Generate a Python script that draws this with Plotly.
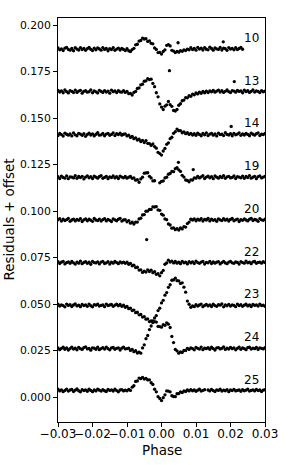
import plotly.graph_objects as go

PHASE = [
    -0.0300, -0.0295, -0.0290, -0.0285, -0.0280, -0.0275, -0.0270, -0.0265, -0.0260, -0.0255,
    -0.0250, -0.0245, -0.0240, -0.0235, -0.0230, -0.0225, -0.0220, -0.0215, -0.0210, -0.0205,
    -0.0200, -0.0195, -0.0190, -0.0185, -0.0180, -0.0175, -0.0170, -0.0165, -0.0160, -0.0155,
    -0.0150, -0.0145, -0.0140, -0.0135, -0.0130, -0.0125, -0.0120, -0.0115, -0.0110, -0.0105,
    -0.0100, -0.0095, -0.0090, -0.0085, -0.0080, -0.0075, -0.0070, -0.0065, -0.0060, -0.0055,
    -0.0050, -0.0045, -0.0040, -0.0035, -0.0030, -0.0025, -0.0020, -0.0015, -0.0010, -0.0005,
    0.0000, 0.0005, 0.0010, 0.0015, 0.0020, 0.0025, 0.0030, 0.0035, 0.0040, 0.0045,
    0.0050, 0.0055, 0.0060, 0.0065, 0.0070, 0.0075, 0.0080, 0.0085, 0.0090, 0.0095,
    0.0100, 0.0105, 0.0110, 0.0115, 0.0120, 0.0125, 0.0130, 0.0135, 0.0140, 0.0145,
    0.0150, 0.0155, 0.0160, 0.0165, 0.0170, 0.0175, 0.0180, 0.0185, 0.0190, 0.0195,
    0.0200, 0.0205, 0.0210, 0.0215, 0.0220, 0.0225, 0.0230, 0.0235, 0.0240, 0.0245,
    0.0250, 0.0255, 0.0260, 0.0265, 0.0270, 0.0275, 0.0280, 0.0285, 0.0290, 0.0295,
    0.0300,
]

LABELS = ["10", "13", "14", "19", "20", "22", "23", "24", "25"]
OFFSETS = [0.187, 0.164, 0.141, 0.118, 0.095, 0.072, 0.049, 0.026, 0.003]

# residuals in units of 1e-3
RES_10 = [
    0.7, -0.3, 0.2, -0.7, 0.6, 1.0, -0.1, -0.5, 0.4, -0.8, 0.8, 0.1, -0.4, 0.9, -0.2, 0.5, -0.6, 0.3, 1.0, 0.0,
    -0.7, 0.6, -0.3, 0.7, 0.2, -0.5, 0.9, -0.1, 0.4, -0.8, 0.3, -0.2, 0.8, -0.6, 0.1, 0.6, -0.4, 0.5, -0.1, -0.7,
    0.3, -0.8, -1.2, -0.2, 0.5, 2.4, 2.7, 4.4, 4.7, 6.0, 5.5, 5.7, 4.2, 4.5, 3.2, 2.9, 0.7, -0.1, -1.8, -1.7,
    -2.6, -1.2, -0.3, 2.1, 2.5, 1.8, -0.6, -1.0, -1.8, -1.2, -1.6, -0.7, -1.1, -0.3, -0.7, 0.1, -0.3,
    0.8, -0.2, 0.5, -0.5, 1.0, 0.1, 0.6, -0.4, 0.9, 0.0, -0.3, 1.1, 0.4, -0.5, 0.7, 0.2, -0.1, 1.0, -0.4, 0.6,
    0.3, -0.6, 0.9, 0.1, 0.5, -0.3, 0.8, -0.2, 0.4, 1.0, 0.0,
]
RES_13 = [
    0.9, 0.0, 0.6, -0.4, 1.1, 0.2, -0.5, 0.8, 0.3, -0.3, 1.0, -0.2, 0.5, 0.9, -0.6, 0.4, 0.7, -0.1, 0.2, 1.2,
    -0.4, 0.6, 0.1, -0.5, 0.9, 0.3, -0.2, 0.8, 0.0, 0.5, -0.6, 1.0, 0.2, 0.6, -0.3, 0.7, 0.1, -0.1,
    0.8, -0.2, 0.3, -0.9, -0.7, -1.6, -0.2, 0.3, 1.9, 2.2, 3.9, 4.2, 5.8, 6.0, 7.2, 6.7, 6.9, 4.6, 2.9, -0.4,
    -2.6, -6.4, -8.1, -9.4, -7.6, -6.9, -5.1, -6.8, -7.7, -9.9, -10.2, -9.4, -7.1, -6.3, -4.7, -4.3, -3.0, -3.1,
    -2.0, -2.3, -1.1, -1.5, -0.5, -1.0, -0.1, -0.7, 0.3, -0.4, 0.5, -0.3, 0.6,
    0.1, 0.9, -0.1, 0.5, 1.0, 0.0, 0.7, -0.2, 0.4, 1.1, 0.2, -0.3, 0.8, 0.5, -0.1, 0.9, 0.3, 0.6, -0.4, 1.0,
    0.2, 0.7, -0.2, 0.4, 1.2, 0.0, 0.6, 0.3, -0.3, 0.8, 0.1, 0.5,
]
RES_14 = [
    -0.4, 0.7, 0.1, -0.7, 0.9, 0.3, -0.2, 0.5, -0.6, 1.0, 0.0, -0.5, 0.8, 0.4, -0.3, 0.6, -0.8, 0.2, 0.9, -0.1,
    0.5, -0.6, 0.3, 1.1, -0.2, 0.0, 0.7, -0.5, 0.4, 0.8, -0.3, 0.2, 1.0, -0.4, 0.6, 0.1, 0.9, -0.2, 0.3,
    0.5, -0.6, -0.2, -1.4, -0.9, -2.1, -1.6, -2.8, -2.4, -3.6, -3.0, -4.2, -3.1, -4.6, -4.7, -5.7, -4.9, -6.3,
    -7.2, -9.4, -10.1, -10.9, -8.7, -7.3, -5.1, -4.3, -2.1, -1.3, 0.8, 1.7, 3.1, 2.2, 2.3, 1.1, 1.6, 0.6, 1.1,
    0.2, 0.8, -0.1,
    0.6, -0.3, 0.9, 0.2, -0.5, 0.7, 0.0, 1.0, -0.4, 0.4, 0.8, -0.2, 0.5, -0.6, 0.9, 0.1, 0.3, -0.4, 1.1, 0.2,
    -0.1, 0.6, -0.5, 0.8, 0.0, 0.4, 1.0, -0.3, 0.5, -0.1, 0.7, 0.2, -0.5, 0.9, 0.3, -0.2, 0.6, 1.0, -0.4, 0.4,
    0.1, 0.7,
]
RES_19 = [
    0.5, -0.5, 0.8, 0.1, -0.3, 0.9, -0.6, 0.4, 0.2, -0.2, 1.0, -0.4, 0.6, 0.0, 0.7, -0.7, 0.3, 0.9, -0.1, 0.5,
    -0.5, 0.8, 0.2, -0.3, 0.6, 1.0, -0.4, 0.1, 0.7, -0.6, 0.4, 0.0, 0.9, -0.2, 0.5, -0.5, 0.8, 0.3, -0.1, 0.6,
    -0.3, 0.2,
    0.6, -0.4, -0.2, -1.4, -1.1, -2.5, -0.7, 0.2, 2.4, 2.5, 2.6, 0.7, -0.2, -1.8, -1.7, None, None, -2.8,
    -2.0, -1.8, -0.2, 0.2, 1.8, 2.2, 3.3, 3.2, 4.8, 5.3, 4.2, 3.3, 1.2, 0.3, -1.3, -1.5, -2.3, -1.2, -1.3,
    -0.2, -0.3,
    0.7, -0.2, 0.4, 1.0, -0.5, 0.3, 0.8, -0.1, 0.5, -0.6, 0.9, 0.2, -0.3, 0.6, 0.0, 1.0, -0.4, 0.4, 0.7, -0.2,
    0.1, 0.9, -0.5, 0.5, 0.3, -0.1, 0.8, -0.4, 0.6, 0.0, 1.1, -0.3, 0.2, 0.7, -0.6, 0.5, 0.9, -0.2, 0.3, 0.6,
]
RES_20 = [
    0.3, 0.9, -0.4, 0.6, -0.1, 0.4, 1.0, -0.5, 0.2, 0.7, -0.3, 0.5, 0.0, 0.9, -0.6, 0.3, 0.8, -0.2, 0.6, 0.1,
    -0.5, 1.0, 0.2, -0.1, 0.7, -0.4, 0.4, 0.9, -0.3, 0.5, 0.0, -0.6, 0.8, 0.3, -0.2, 0.6, 1.1, -0.4, 0.2,
    0.4, -0.8, -0.1, -1.5, -1.0, -2.0, -0.9, -0.9, 0.8, 1.2, 2.9, 3.1, 4.9, 5.0, 5.9, 5.9, 7.3, 7.2, 7.4, 5.6,
    5.4, 3.4, 2.8, 0.8, 0.4, -1.9, -2.5, -4.2, -4.0, -5.0, -4.4, -5.2, -4.1, -4.6, -3.4, -3.6, -1.7, -0.9, 0.6,
    0.2, 0.8,
    -0.2, 0.6, 0.1, 0.9, -0.4, 0.5, 0.2, 1.0, -0.3, 0.7, 0.0, 0.4, -0.5, 0.8, 0.3, -0.1, 0.9, 0.1, 0.6, -0.4,
    0.5, 1.0, -0.2, 0.3, 0.7, -0.6, 0.4, 0.0, 0.8, 0.2, -0.3, 0.6, 1.1, -0.1, 0.5, 0.2, -0.5, 0.9, 0.3, 0.0,
    0.6,
]
RES_22 = [
    0.8, -0.2, 0.5, 1.0, -0.4, 0.3, 0.7, -0.1, 0.9, 0.2, -0.5, 0.6, 0.0, 1.1, -0.3, 0.4, 0.8, -0.1, 0.5, -0.6,
    0.9, 0.3, 0.1, 0.7, -0.4, 0.6, 1.0, -0.2, 0.2, 0.8, -0.5, 0.5, 0.0, 0.9, 0.3, -0.3, 0.7, 0.1, 0.6,
    -0.1, 0.5, -0.6, -0.1, -1.4, -1.1, -2.4, -2.2, -3.7, -3.6, -5.0, -4.3, -4.8, -3.6, -4.5, -3.8, -5.1, -4.6,
    -6.0, -5.7, -6.8, -5.1, -3.9, -0.6, 0.1, 1.6, 0.6, 1.1, 0.1,
    0.9, 0.0, 0.6, -0.3, 1.0, 0.2, 0.5, -0.4, 0.8, 0.1, 0.7, -0.2, 1.1, 0.3, -0.1, 0.6, 0.9, -0.5, 0.4, 0.2,
    1.0, -0.2, 0.7, 0.0, 0.5, 0.8, -0.4, 0.3, 1.0, 0.1, -0.3, 0.6, 0.9, 0.2, -0.1, 0.7, 0.4, -0.5, 0.8, 0.3,
    0.0, 1.1, 0.2, 0.5, -0.3, 0.7, 0.9, -0.1, 0.4, 0.6, 0.0, 0.8, 0.3,
]
RES_23 = [
    0.9, -0.1, 0.6, 0.2, -0.5, 1.0, 0.3, 0.7, -0.3, 0.5, 1.1, 0.0, 0.4, -0.4, 0.8, 0.2, 0.6, -0.2, 1.0, 0.1,
    -0.5, 0.7, 0.4, 0.9, -0.1, 0.3, 0.6, -0.4, 1.0, 0.2, 0.5, 0.8, -0.2, 0.4,
    0.9, 0.1, 0.8, -0.2, 0.4, -0.7, -0.3, -1.5, -1.2, -2.5, -2.2, -3.6, -3.4, -4.8, -4.6, -6.0, -5.8, -7.1,
    -7.0, -8.4, -8.1, -8.9, -6.5, -5.2, -2.5, -1.2, 1.6, 3.0, 5.8, 7.2, 10.0, 11.4, 13.8, 14.0, 14.9, 13.6,
    13.5, 12.1, 12.4, 10.1, 7.4, 2.6, 0.9, -0.7, 0.0, -0.4,
    0.7, -0.1, 0.5, 1.0, -0.4, 0.3, 0.8, 0.0, 0.6, -0.3, 0.9, 0.2, -0.2, 0.7, 0.4, 1.1, -0.5, 0.5, 0.1, 0.8,
    -0.1, 0.6, 0.3, -0.4, 1.0, 0.2, 0.7, -0.2, 0.4, 0.9, 0.0, 0.5, -0.3, 0.8, 0.3, 0.6, -0.1, 1.0, 0.2, 0.4,
    -0.2,
]
RES_24 = [
    0.4, -0.5, 0.2, 0.8, -0.3, 0.5, -0.7, 0.1, 0.9, -0.2, 0.3, -0.6, 0.7, 0.0, -0.4, 0.6, 1.0, -0.1, 0.2, -0.8,
    0.5, 0.3, -0.3, 0.8, -0.5, 0.1, 0.6, -0.2, 0.9, 0.0, -0.6, 0.4, 0.7, -0.3, 0.2, 0.5, -0.7, 0.3, 0.9, -0.1,
    0.1,
    0.3, -0.9, -0.4, -1.6, -1.1, -2.3, -1.8, -2.4, 0.4, 2.1, 5.4, 7.1, 10.3, 12.2, 14.9, 14.6, 14.3, 12.0,
    11.9, 11.6, 12.9, 12.6, 13.9, 13.2, 11.4, 6.6, 3.3, -0.4, -1.2, -2.4, -1.7, -2.0, -0.9, -1.0, 0.2,
    -0.4, 0.5, 0.1, -0.6, 0.7, 0.2, -0.2, 0.9, -0.5, 0.3, 0.0, 0.6, -0.3, 0.8, 0.1, -0.7, 0.4, 0.6, -0.1, 0.2,
    1.0, -0.4, 0.3, -0.2, 0.7, 0.0, 0.5, -0.6, 0.2, 0.9, -0.3, 0.4, 0.1, -0.5, 0.6, 0.8, -0.2, 0.3, 0.0, 0.7,
    -0.4, 0.5, 0.2, -0.1, 0.6,
]
RES_25 = [
    1.2, 0.3, 0.9, -0.1, 0.6, 1.3, 0.2, 0.8, 1.1, 0.0, 0.7, 1.4, 0.4, -0.2, 1.0, 0.5, 0.9, 0.1, 1.2, 0.6,
    -0.1, 0.8, 0.3, 1.3, 0.7, 0.2, 1.0, 0.4, 0.0, 1.1, 0.6, 0.9, 0.2, 1.2, 0.5, -0.2, 0.8, 1.0, 0.3, 0.7,
    0.4,
    1.1, 0.6, 2.3, 3.1, 5.4, 5.7, 7.2, 6.9, 7.6, 6.7, 7.1, 6.2, 6.3, 4.7, 3.8, 1.2, -0.2, -2.8, -3.7, -4.9,
    -3.3, -1.8, 0.3, 0.2, -0.2, -2.3, -2.7, -2.8, -1.2, -1.1, -0.2, -0.6, 0.3, 0.0, 0.8,
    0.3, 1.0, 0.4, 0.9, 0.1, 0.7, 1.2, 0.2, 0.6, 1.0, None, 0.8, 0.3, 1.1, 0.5, 0.0, 0.9, 0.6, 1.2, 0.2,
    0.7, 0.4, 1.0, -0.1, 0.8, 0.5, 1.1, 0.3, 0.6, 0.9, 0.1, 1.0, 0.4, 0.7, 1.3, 0.2, 0.6, 0.9, 0.3, 1.1,
    0.5, 0.8, 0.0, 0.7, 1.0,
]

# isolated outlying points: (phase, residual in 1e-3)
OUT_10 = [(0.0048, 3.5), (0.0179, 4.0)]
OUT_13 = [(0.0023, 11.5), (0.0211, 5.6)]
OUT_14 = [(0.0202, 4.5)]
OUT_19 = [(0.0049, 8.2), (0.0092, 4.3)]
OUT_20 = [(-0.0043, -10.3)]
OUT_22 = []
OUT_23 = []
OUT_24 = []
OUT_25 = []

RESIDUALS = [RES_10, RES_13, RES_14, RES_19, RES_20, RES_22, RES_23, RES_24, RES_25]
OUTLIERS = [OUT_10, OUT_13, OUT_14, OUT_19, OUT_20, OUT_22, OUT_23, OUT_24, OUT_25]

assert len(RES_10) == 108, len(RES_10)
for r in RESIDUALS[1:]:
    assert len(r) == len(PHASE), len(r)

Y_TICKS = [0.000, 0.025, 0.050, 0.075, 0.100, 0.125, 0.150, 0.175, 0.200]
X_TICKS = [-0.03, -0.02, -0.01, 0.00, 0.01, 0.02, 0.03]
X_TICK_TEXT = ["\u22120.03", "\u22120.02", "\u22120.01", "0.00", "0.01", "0.02", "0.03"]

FONT = "DejaVu Sans"

fig = go.Figure()
for lab, off, res, outs in zip(LABELS, OFFSETS, RESIDUALS, OUTLIERS):
    xs = PHASE[:len(res)] + [p for p, _ in outs]
    ys = [None if v is None else off + v * 1e-3 for v in res] + [off + v * 1e-3 for _, v in outs]
    fig.add_trace(go.Scatter(
        x=xs, y=ys, mode="markers", name=lab, showlegend=False,
        marker=dict(color="black", size=3.3, line=dict(width=0)),
    ))
    fig.add_annotation(
        x=0.0288, y=off + 0.0062, xref="x", yref="y", text=lab, showarrow=False,
        xanchor="right", yanchor="middle", font=dict(family=FONT, size=12, color="black"),
    )

fig.add_annotation(
    x=-0.239, y=0.5, xref="paper", yref="paper", text="Residuals + offset", textangle=-90,
    showarrow=False, xanchor="center", yanchor="middle",
    font=dict(family=FONT, size=13.5, color="black"),
)
fig.add_annotation(
    x=0.5, y=-0.0690, xref="paper", yref="paper", text="Phase",
    showarrow=False, xanchor="center", yanchor="middle",
    font=dict(family=FONT, size=13.5, color="black"),
)

fig.update_layout(
    width=291, height=465, autosize=False,
    margin=dict(l=58, r=26, t=18, b=43, pad=0),
    paper_bgcolor="white", plot_bgcolor="white",
    font=dict(family=FONT, color="black"),
)
fig.update_xaxes(
    range=[-0.03, 0.03], tickvals=X_TICKS, ticktext=X_TICK_TEXT, tickangle=0,
    automargin=False, ticklabelstandoff=-3,
    showline=True, mirror=True, linecolor="black", linewidth=1,
    ticks="outside", ticklen=4, tickcolor="black", tickwidth=1,
    showgrid=False, zeroline=False, tickfont=dict(family=FONT, size=12, color="black"),
)
fig.update_yaxes(
    range=[-0.0134, 0.2038], tickvals=Y_TICKS, tickformat=".3f",
    automargin=False,
    showline=True, mirror=True, linecolor="black", linewidth=1,
    ticks="outside", ticklen=4, tickcolor="black", tickwidth=1,
    showgrid=False, zeroline=False, tickfont=dict(family=FONT, size=10.8, color="black"),
)

fig.write_html(
    "out.html",
    config={"displayModeBar": False},
    post_script="document.body.style.margin='0';document.body.style.padding='0';",
)
